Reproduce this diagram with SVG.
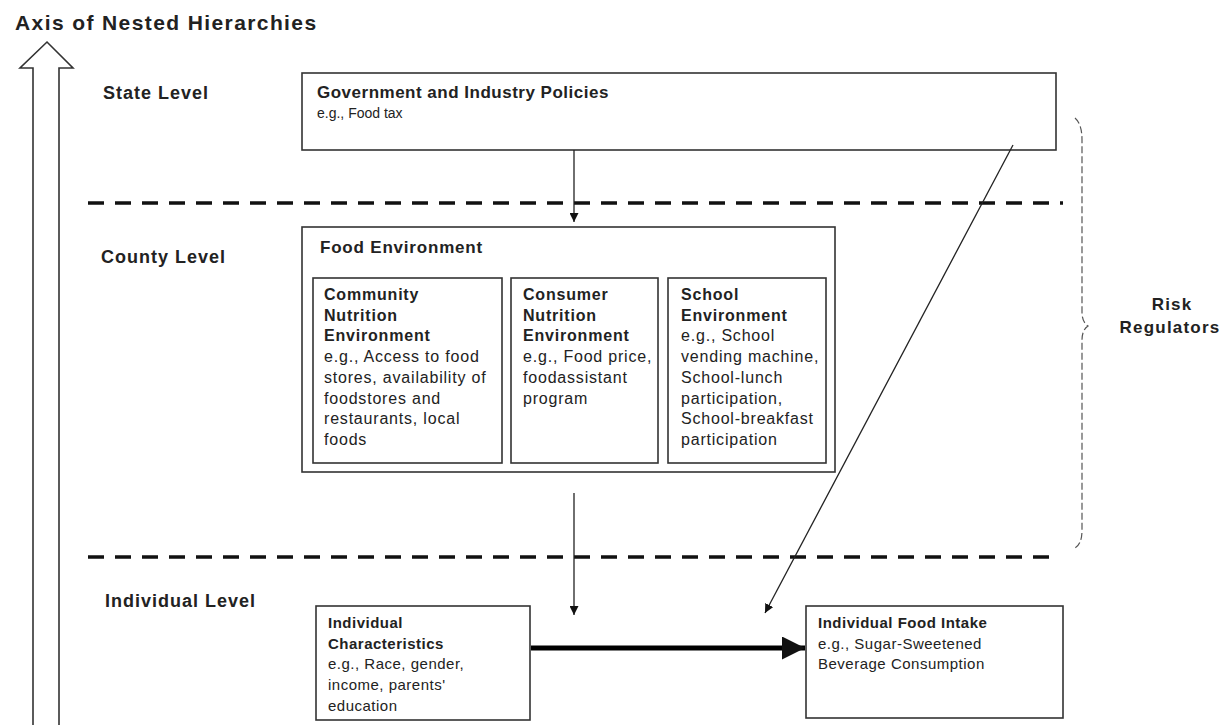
<svg xmlns="http://www.w3.org/2000/svg" width="1230" height="725" viewBox="0 0 1230 725">
<defs>
<style>
.box{fill:#fff;stroke:#333;stroke-width:1.6}
.t{font-family:"Liberation Sans",Arial,sans-serif;fill:#222;font-size:15px;letter-spacing:0.5px}
.s{font-size:16px;letter-spacing:0.8px}
.b{font-weight:bold}
.lvl{font-family:"Liberation Sans",Arial,sans-serif;font-weight:bold;fill:#222;font-size:18px;letter-spacing:1px}
.dash{stroke:#111;stroke-width:3.5;stroke-dasharray:16 11;fill:none}
.con{stroke:#222;stroke-width:1.3;fill:none}
</style>
<marker id="ah" viewBox="0 0 10 10" refX="10" refY="5" markerWidth="9" markerHeight="9" markerUnits="userSpaceOnUse" orient="auto">
<path d="M0,0 L10,5 L0,10 Z" fill="#111"/>
</marker>
<marker id="ahb" viewBox="0 0 10 10" refX="10" refY="5" markerWidth="5" markerHeight="4.6" orient="auto">
<path d="M0,0 L10,5 L0,10 Z" fill="#111"/>
</marker>
</defs>
<rect width="1230" height="725" fill="#fff"/>

<g id="axis">
<text x="15" y="30" class="lvl" style="font-size:21px;letter-spacing:1.4px">Axis of Nested Hierarchies</text>
<polygon points="33,730 33,68 20,68 47,42 73,68 59,68 59,730" fill="#fff" stroke="#333" stroke-width="1.6"/>
</g>

<g id="levels">
<text x="103" y="99" class="lvl">State Level</text>
<text x="101" y="263" class="lvl">County Level</text>
<text x="105" y="607" class="lvl">Individual Level</text>
<line x1="88" y1="203" x2="1063" y2="203" class="dash"/>
<line x1="88" y1="557" x2="1050" y2="557" class="dash"/>
</g>

<g id="gov">
<rect x="302" y="73" width="754" height="77" class="box"/>
<text x="317" y="98" class="t b" style="font-size:17px">Government and Industry Policies</text>
<text x="317" y="118" class="t" style="font-size:14px;letter-spacing:0">e.g., Food tax</text>
</g>

<g id="food-env">
<rect x="302" y="227" width="533" height="245" class="box"/>
<text x="320" y="253" class="t b" style="font-size:17px;letter-spacing:0.8px">Food Environment</text>
</g>

<g id="community">
<rect x="313" y="278" width="189" height="185" class="box"/>
<text class="t s" x="324">
<tspan x="324" y="300" class="b">Community</tspan>
<tspan x="324" y="320.7" class="b">Nutrition</tspan>
<tspan x="324" y="341.4" class="b">Environment</tspan>
<tspan x="324" y="362.1">e.g., Access to food</tspan>
<tspan x="324" y="382.8">stores, availability of</tspan>
<tspan x="324" y="403.5">foodstores and</tspan>
<tspan x="324" y="424.2">restaurants, local</tspan>
<tspan x="324" y="444.9">foods</tspan>
</text>
</g>

<g id="consumer">
<rect x="511" y="278" width="147" height="185" class="box"/>
<text class="t s" x="523">
<tspan x="523" y="300" class="b">Consumer</tspan>
<tspan x="523" y="320.7" class="b">Nutrition</tspan>
<tspan x="523" y="341.4" class="b">Environment</tspan>
<tspan x="523" y="362.1">e.g., Food price,</tspan>
<tspan x="523" y="382.8">foodassistant</tspan>
<tspan x="523" y="403.5">program</tspan>
</text>
</g>

<g id="school">
<rect x="668" y="278" width="158" height="185" class="box"/>
<text class="t s" x="681">
<tspan x="681" y="300" class="b">School</tspan>
<tspan x="681" y="320.7" class="b">Environment</tspan>
<tspan x="681" y="341.4">e.g., School</tspan>
<tspan x="681" y="362.1">vending machine,</tspan>
<tspan x="681" y="382.8">School-lunch</tspan>
<tspan x="681" y="403.5">participation,</tspan>
<tspan x="681" y="424.2">School-breakfast</tspan>
<tspan x="681" y="444.9">participation</tspan>
</text>
</g>

<g id="individual-char">
<rect x="316" y="606" width="214" height="114" class="box"/>
<text class="t" x="328">
<tspan x="328" y="628" class="b">Individual</tspan>
<tspan x="328" y="648.7" class="b">Characteristics</tspan>
<tspan x="328" y="669.4">e.g., Race, gender,</tspan>
<tspan x="328" y="690.1">income, parents'</tspan>
<tspan x="328" y="710.8">education</tspan>
</text>
</g>

<g id="individual-intake">
<rect x="806" y="606" width="257" height="112" class="box"/>
<text class="t" x="818">
<tspan x="818" y="628" class="b">Individual Food Intake</tspan>
<tspan x="818" y="648.7">e.g., Sugar-Sweetened</tspan>
<tspan x="818" y="669.4">Beverage Consumption</tspan>
</text>
</g>

<g id="risk-regulators">
<path d="M1075,118 Q1082,124 1082,140 L1082,312 Q1082,322 1088,326 Q1082,330 1082,340 L1082,530 Q1082,544 1075,548" fill="none" stroke="#555" stroke-width="1.2" stroke-dasharray="7 3"/>
<text class="lvl" style="font-size:17px;letter-spacing:1.2px" text-anchor="middle">
<tspan x="1175" y="310">Risk</tspan>
<tspan x="1170" y="333">Regulators</tspan>
</text>
</g>

<g id="connectors">
<line x1="574" y1="150" x2="574" y2="222" class="con" marker-end="url(#ah)"/>
<line x1="574" y1="493" x2="574" y2="615" class="con" marker-end="url(#ah)"/>
<line x1="1013" y1="145" x2="765" y2="613" class="con" marker-end="url(#ah)"/>
<line x1="531" y1="648" x2="805" y2="648" stroke="#000" stroke-width="5" marker-end="url(#ahb)"/>
</g>
</svg>
